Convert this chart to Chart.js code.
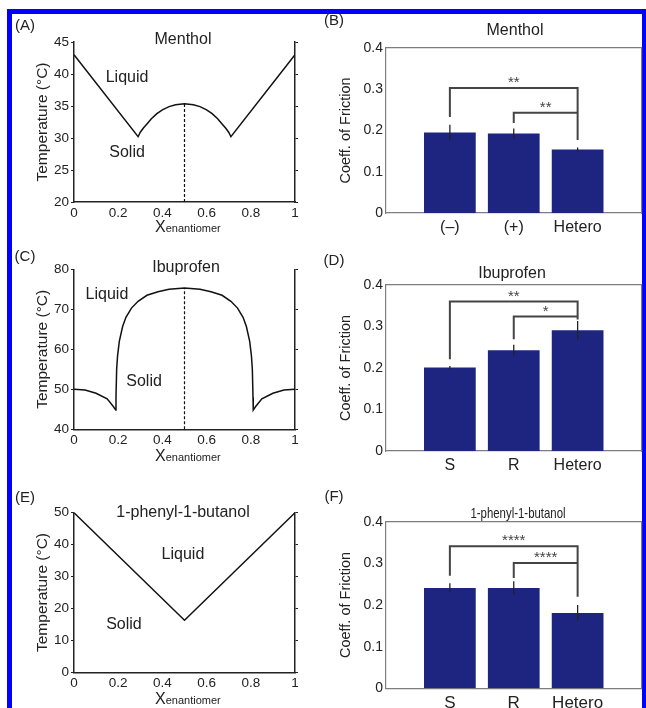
<!DOCTYPE html>
<html>
<head>
<meta charset="utf-8">
<title>Phase diagrams and coefficient of friction</title>
<script src="https://cdn.jsdelivr.net/npm/chart.js@4.4.1/dist/chart.umd.min.js"></script>
<style>
  html, body { margin: 0; padding: 0; background: #fff; }
  #page { position: relative; width: 646px; height: 708px; overflow: hidden;
          font-family: "Liberation Sans", Arial, Helvetica, sans-serif; color: #222; }
  #frame { position: absolute; left: 7px; top: 9px; width: 639px; height: 720px; box-sizing: border-box;
           border: 5px solid #0000ff; border-right-width: 4px; border-bottom: none; }
  canvas { position: absolute; }
  .lbl { position: absolute; white-space: nowrap; transform: translate(-50%, -50%); line-height: 1; }
  .letter { font-size: 15px; }
  .ttl { font-size: 16px; }
  .xt { position: absolute; left: 155px; white-space: nowrap; font-size: 16px; line-height: 16px; }
  .xt span { font-size: 11px; }
</style>
</head>
<body>
<div id="page">
  <div id="frame"></div>

  <canvas id="chartA" width="323" height="240" style="left:0;top:0"></canvas>
  <canvas id="chartB" width="323" height="240" style="left:323px;top:0"></canvas>
  <canvas id="chartC" width="323" height="240" style="left:0;top:236px"></canvas>
  <canvas id="chartD" width="323" height="240" style="left:323px;top:236px"></canvas>
  <canvas id="chartE" width="323" height="238" style="left:0;top:470px"></canvas>
  <canvas id="chartF" width="323" height="238" style="left:323px;top:470px"></canvas>

  <!-- panel letters -->
  <div class="lbl letter" style="left:25px;top:24px">(A)</div>
  <div class="lbl letter" style="left:334px;top:19px">(B)</div>
  <div class="lbl letter" style="left:25px;top:255px">(C)</div>
  <div class="lbl letter" style="left:334px;top:259px">(D)</div>
  <div class="lbl letter" style="left:25px;top:496px">(E)</div>
  <div class="lbl letter" style="left:334px;top:495px">(F)</div>

  <!-- panel titles -->
  <div class="lbl ttl" style="left:183px;top:39px">Menthol</div>
  <div class="lbl ttl" style="left:515px;top:30px">Menthol</div>
  <div class="lbl ttl" style="left:186px;top:267px">Ibuprofen</div>
  <div class="lbl ttl" style="left:512px;top:273px">Ibuprofen</div>
  <div class="lbl ttl" style="left:183px;top:512px">1-phenyl-1-butanol</div>
  <div class="lbl ttl" style="left:518px;top:512px;font-size:15px;transform:translate(-50%,-50%) scaleX(0.76)">1-phenyl-1-butanol</div>

  <!-- x axis titles of the phase diagrams -->
  <div class="xt" style="top:219px">X<span>enantiomer</span></div>
  <div class="xt" style="top:448px">X<span>enantiomer</span></div>
  <div class="xt" style="top:691px">X<span>enantiomer</span></div>
</div>

<script>
// ---- data: phase diagrams (mole fraction of one enantiomer vs melting temperature) ----
const mentholX = [0, 0.29, 0.30, 0.315, 0.33, 0.35, 0.375, 0.40, 0.43, 0.46, 0.50,
                  0.54, 0.57, 0.60, 0.625, 0.65, 0.67, 0.685, 0.70, 0.71, 1];
const mentholT = [43, 30.2, 30.9, 31.6, 32.2, 33.0, 33.8, 34.4, 34.9, 35.2, 35.35,
                  35.2, 34.9, 34.4, 33.8, 33.0, 32.2, 31.6, 30.9, 30.2, 43];
const mentholDashX = [0.5, 0.5];
const mentholDashT = [20, 35.35];
const mentholTicks = [20, 45, 5];   // min, max, step

const ibuX = [0, 0.05, 0.10, 0.15, 0.178, 0.189, 0.19, 0.193, 0.197, 0.205, 0.22, 0.235, 0.26, 0.29, 0.33, 0.38, 0.43, 0.50,
              0.57, 0.62, 0.67, 0.71, 0.74, 0.765, 0.78, 0.795, 0.803, 0.807, 0.81, 0.811, 0.822, 0.85, 0.90, 0.95, 1];
const ibuT = [50, 49.8, 49.0, 47.6, 45.7, 44.8, 48, 55, 58.3, 62, 65.7, 68, 70.3, 72, 73.5, 74.4, 75, 75.3,
              75, 74.4, 73.5, 72, 70.3, 68, 65.7, 62, 58.3, 55, 48, 44.8, 45.7, 47.6, 49.0, 49.8, 50];
const ibuDashX = [0.5, 0.5];
const ibuDashT = [40, 75.3];
const ibuTicks = [40, 80, 10];

const butX = [0, 0.5, 1];
const butT = [50, 16.3, 50];
const butTicks = [0, 50, 10];

// ---- data: coefficient of friction bars ----
const mentholCats = ['(\u2013)', '(+)', 'Hetero'];
const mentholCof = [0.195, 0.193, 0.154];
const mentholErr = [0.019, 0.012, 0.005];
const mentholBrFrom = [1, 2];
const mentholBrTo = [3, 3];
const mentholBrY = [0.303, 0.243];
const mentholBrLeftEnd = [0.233, 0.218];
const mentholBrRightEnd = [0.177, 0.177];
const mentholStars = ['**', '**'];

const ibuCats = ['S', 'R', 'Hetero'];
const ibuCof = [0.201, 0.243, 0.291];
const ibuErr = [0.004, 0.013, 0.022];
const ibuBrFrom = [1, 2];
const ibuBrTo = [3, 3];
const ibuBrY = [0.36, 0.324];
const ibuBrLeftEnd = [0.221, 0.269];
const ibuBrRightEnd = [0.317, 0.317];
const ibuStars = ['**', '*'];

const butCats = ['S', 'R', 'Hetero'];
const butCof = [0.241, 0.241, 0.181];
const butErr = [0.011, 0.016, 0.019];
const butBrFrom = [1, 2];
const butBrTo = [3, 3];
const butBrY = [0.341, 0.301];
const butBrLeftEnd = [0.27, 0.265];
const butBrRightEnd = [0.22, 0.22];
const butStars = ['****', '****'];

const cofTicks = [0, 0.4, 0.1];

// ---- common settings ----
const FONT = '"Liberation Sans", Arial, Helvetica, sans-serif';
Chart.defaults.font.family = FONT;
Chart.defaults.color = '#222';
Chart.defaults.animation = false;

const AXIS = '#222';
const BOX = '#7d7d7d';
const BAR = '#1d2580';

// text placed in data coordinates (region labels, significance stars)
const notesPlugin = {
  id: 'notes',
  afterDatasetsDraw(chart, args, opts) {
    const ctx = chart.ctx;
    const xs = chart.scales.x;
    const ys = chart.scales.y;
    (opts.items || []).forEach(n => {
      ctx.save();
      ctx.font = n.font;
      ctx.fillStyle = n.color || '#222';
      ctx.textAlign = 'center';
      ctx.textBaseline = n.baseline || 'middle';
      ctx.fillText(n.text, xs.getPixelForValue(n.x), ys.getPixelForValue(n.y) + (n.dy || 0));
      ctx.restore();
    });
  }
};

function toPoints(xs, ys) {
  return xs.map((x, i) => ({ x: x, y: ys[i] }));
}

// plain number labels: 0, 0.2, ... 1
function plainNumber(v) {
  return String(Number(v.toFixed(2)));
}

// phase diagram panel (A, C, E)
function phaseChart(id, o) {
  const [yMin, yMax, yStep] = o.ticks;
  return new Chart(document.getElementById(id), {
    type: 'scatter',
    data: {
      datasets: [
        { data: toPoints(o.x, o.t), showLine: true, borderColor: '#111', borderWidth: 1.5,
          pointRadius: 0, tension: 0, yAxisID: 'y' },
        { data: toPoints(o.dashX || [], o.dashT || []), showLine: true, borderColor: '#111', borderWidth: 1.2,
          borderDash: [3, 2], pointRadius: 0, yAxisID: 'y' }
      ]
    },
    options: {
      responsive: false,
      devicePixelRatio: 1,
      layout: { padding: { top: o.padTop, right: 28, left: 0, bottom: 0 } },
      plugins: { legend: { display: false }, tooltip: { enabled: false }, notes: { items: o.notes } },
      scales: {
        x: {
          type: 'linear', min: 0, max: 1,
          ticks: { stepSize: 0.2, padding: 3, font: { size: 13.5 }, color: '#222', maxRotation: 0,
                   callback: plainNumber },
          grid: { display: false, drawTicks: false },
          border: { color: AXIS, width: 1.5 },
          afterFit: s => { s.height = o.axisH; }
        },
        y: {
          type: 'linear', min: yMin, max: yMax,
          ticks: { stepSize: yStep, padding: 2, font: { size: 13.5 }, color: '#222' },
          grid: { drawOnChartArea: false, drawTicks: true, tickLength: 3, color: AXIS },
          border: { color: AXIS, width: 1.5 },
          title: { display: true, text: 'Temperature (\u00B0C)', font: { size: 15.5 }, color: '#222',
                   padding: { top: 33, bottom: 0 } },
          afterFit: s => { s.width = 74; }
        },
        y2: {
          type: 'linear', position: 'right', min: yMin, max: yMax,
          ticks: { display: false, stepSize: yStep },
          grid: { drawOnChartArea: false, drawTicks: true, tickLength: 3, color: AXIS },
          border: { color: AXIS, width: 1.5 },
          afterFit: s => { s.width = 0; }
        }
      }
    },
    plugins: [notesPlugin]
  });
}

// error bars as broken line segments
function errorSegments(vals, errs) {
  const pts = [];
  vals.forEach((v, i) => {
    pts.push({ x: i + 1, y: v - errs[i] }, { x: i + 1, y: v + errs[i] }, { x: i + 1, y: null });
  });
  return pts;
}

// significance brackets
function bracketSegments(from, to, y, leftEnd, rightEnd) {
  const pts = [];
  y.forEach((yy, i) => {
    pts.push({ x: from[i], y: leftEnd[i] }, { x: from[i], y: yy }, { x: to[i], y: yy },
             { x: to[i], y: rightEnd[i] }, { x: to[i], y: null });
  });
  return pts;
}

// friction bar panel (B, D, F)
function frictionChart(id, o) {
  const [yMin, yMax, yStep] = cofTicks;
  const stars = o.stars.map((s, i) => ({
    text: s, x: (o.brFrom[i] + o.brTo[i]) / 2, y: o.brY[i], dy: -1,
    baseline: 'alphabetic', font: '15px ' + FONT, color: '#444'
  }));
  return new Chart(document.getElementById(id), {
    type: 'bar',
    data: {
      datasets: [
        { type: 'line', data: bracketSegments(o.brFrom, o.brTo, o.brY, o.brLeftEnd, o.brRightEnd),
          borderColor: '#444', borderWidth: 2, pointRadius: 0, spanGaps: false, order: 0,
          borderJoinStyle: 'miter' },
        { type: 'line', data: errorSegments(o.vals, o.errs), borderColor: '#222', borderWidth: 1.3,
          pointRadius: 0, spanGaps: false, order: 1 },
        { type: 'bar', data: toPoints(o.vals.map((v, i) => i + 1), o.vals), backgroundColor: BAR,
          borderWidth: 0, barPercentage: 0.81, categoryPercentage: 1, order: 2 }
      ]
    },
    options: {
      responsive: false,
      devicePixelRatio: 1,
      layout: { padding: { top: o.padTop, right: 4.5, left: 0, bottom: 0 } },
      plugins: { legend: { display: false }, tooltip: { enabled: false }, notes: { items: stars } },
      scales: {
        x: {
          type: 'linear', min: 0, max: o.cats.length + 1, offset: false,
          afterBuildTicks: s => { s.ticks = o.cats.map((c, i) => ({ value: i + 1 })); },
          ticks: { callback: v => o.cats[v - 1], font: { size: o.catSize }, padding: 4.5,
                   autoSkip: false, maxRotation: 0, color: '#222' },
          grid: { display: false, offset: false, drawTicks: false },
          border: { color: BOX, width: 1.2 },
          afterFit: s => { s.height = o.axisH; }
        },
        x2: {
          type: 'linear', position: 'top', min: 0, max: o.cats.length + 1, offset: false,
          ticks: { display: false }, grid: { display: false, drawTicks: false },
          border: { color: BOX, width: 1.2 },
          afterFit: s => { s.height = 0; }
        },
        y: {
          type: 'linear', min: yMin, max: yMax,
          ticks: { stepSize: yStep, padding: 3, font: { size: 14 }, color: '#222' },
          grid: { display: false, drawTicks: false },
          border: { color: BOX, width: 1.2 },
          title: { display: true, text: 'Coeff. of Friction', font: { size: 14.5 }, color: '#222',
                   padding: { top: 14.6, bottom: 0 } },
          afterFit: s => { s.width = 63; }
        },
        y2: {
          type: 'linear', position: 'right', min: yMin, max: yMax,
          ticks: { display: false }, grid: { display: false, drawTicks: false },
          border: { color: BOX, width: 1.2 },
          afterFit: s => { s.width = 0; }
        }
      }
    },
    plugins: [notesPlugin]
  });
}

const regionFont = '16px ' + FONT;

phaseChart('chartA', {
  x: mentholX, t: mentholT, dashX: mentholDashX, dashT: mentholDashT, ticks: mentholTicks,
  padTop: 42, axisH: 38,
  notes: [
    { text: 'Liquid', x: 0.24, y: 39.4, font: regionFont },
    { text: 'Solid', x: 0.24, y: 27.7, font: regionFont }
  ]
});

phaseChart('chartC', {
  x: ibuX, t: ibuT, dashX: ibuDashX, dashT: ibuDashT, ticks: ibuTicks,
  padTop: 33.3, axisH: 46.7,
  notes: [
    { text: 'Liquid', x: 0.149, y: 73.75, font: regionFont },
    { text: 'Solid', x: 0.317, y: 52, font: regionFont }
  ]
});

phaseChart('chartE', {
  x: butX, t: butT, ticks: butTicks,
  padTop: 42.7, axisH: 35.7,
  notes: [
    { text: 'Liquid', x: 0.493, y: 37, font: regionFont },
    { text: 'Solid', x: 0.226, y: 14.8, font: regionFont }
  ]
});

frictionChart('chartB', {
  cats: mentholCats, vals: mentholCof, errs: mentholErr,
  brFrom: mentholBrFrom, brTo: mentholBrTo, brY: mentholBrY,
  brLeftEnd: mentholBrLeftEnd, brRightEnd: mentholBrRightEnd, stars: mentholStars,
  padTop: 48, axisH: 27, catSize: 16
});

frictionChart('chartD', {
  cats: ibuCats, vals: ibuCof, errs: ibuErr,
  brFrom: ibuBrFrom, brTo: ibuBrTo, brY: ibuBrY,
  brLeftEnd: ibuBrLeftEnd, brRightEnd: ibuBrRightEnd, stars: ibuStars,
  padTop: 49, axisH: 25, catSize: 16
});

frictionChart('chartF', {
  cats: butCats, vals: butCof, errs: butErr,
  brFrom: butBrFrom, brTo: butBrTo, brY: butBrY,
  brLeftEnd: butBrLeftEnd, brRightEnd: butBrRightEnd, stars: butStars,
  padTop: 51.7, axisH: 19.7, catSize: 17
});
</script>
</body>
</html>
